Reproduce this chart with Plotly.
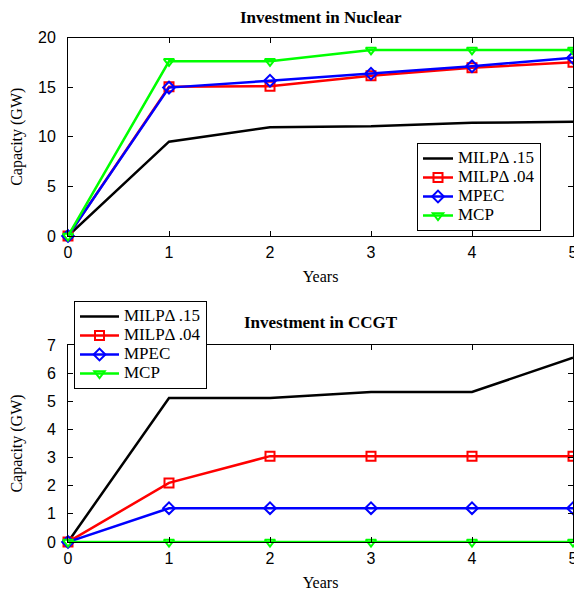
import plotly.graph_objects as go

years = [0, 1, 2, 3, 4, 5]
series_names = ["MILPΔ .15", "MILPΔ .04", "MPEC", "MCP"]

nuclear_milp15 = [0, 9.5, 10.95, 11.05, 11.4, 11.5]
nuclear_milp04 = [0, 15.05, 15.1, 16.15, 16.95, 17.5]
nuclear_mpec = [0, 14.95, 15.65, 16.35, 17.1, 17.95]
nuclear_mcp = [0, 17.6, 17.6, 18.75, 18.75, 18.75]

ccgt_milp15 = [0, 5.12, 5.12, 5.33, 5.33, 6.55]
ccgt_milp04 = [0, 2.1, 3.05, 3.05, 3.05, 3.05]
ccgt_mpec = [0, 1.2, 1.2, 1.2, 1.2, 1.2]
ccgt_mcp = [0, 0, 0, 0, 0, 0]

nuclear_ticks = [0, 5, 10, 15, 20]
ccgt_ticks = [0, 1, 2, 3, 4, 5, 6, 7]

styles = [
    dict(color="black", symbol=None),
    dict(color="#ff0000", symbol="square-open"),
    dict(color="#0000ff", symbol="diamond-open"),
    dict(color="#00ff00", symbol="triangle-down-open"),
]

SERIF = "Liberation Serif, Times New Roman, serif"
SANS = "Liberation Sans, Arial, sans-serif"

fig = go.Figure()

def add_group(data, xa, ya, legend):
    for name, vals, st in zip(series_names, data, styles):
        mode = "lines" if st["symbol"] is None else "lines+markers"
        marker = dict(color=st["color"], size=9, line=dict(color=st["color"], width=2))
        if st["symbol"]:
            marker["symbol"] = st["symbol"]
        fig.add_trace(go.Scatter(
            x=years, y=vals,
            name='<span style="font-size:17px">' + name + '</span>',
            mode=mode,
            line=dict(color=st["color"], width=2.5),
            marker=marker, xaxis=xa, yaxis=ya, legend=legend, cliponaxis=False,
        ))

add_group([nuclear_milp15, nuclear_milp04, nuclear_mpec, nuclear_mcp], "x", "y", "legend")
add_group([ccgt_milp15, ccgt_milp04, ccgt_mpec, ccgt_mcp], "x2", "y2", "legend2")

# page body has an 8px default margin; figure is sized to fill the rest of the window
OFF = 8
W, H = 582 - OFF, 592 - OFF

def px(x):
    return (x - OFF) / W

def py(y):
    return 1 - (y - OFF) / H

xl, xr = px(68), px(573)
top_y0, top_y1 = py(236), py(37.5)
bot_y0, bot_y1 = py(542), py(345)

tickfont = dict(family=SANS, size=16, color="black")
titlefont = dict(family=SERIF, size=16, color="black")

axis_common = dict(showline=True, linecolor="black", linewidth=1, mirror="ticks",
                   ticks="inside", ticklen=5, tickcolor="black", showgrid=False,
                   zeroline=False, tickfont=tickfont, automargin=False,
                   ticklabeloverflow="allow")

legend_common = dict(xanchor="left", yanchor="top",
                     bgcolor="white", bordercolor="black", borderwidth=1,
                     font=dict(family=SERIF, size=11, color="black"),
                     tracegroupgap=0)

fig.update_layout(
    width=W, height=H, margin=dict(l=0, r=0, t=0, b=0),
    paper_bgcolor="white", plot_bgcolor="white",
    xaxis=dict(domain=[xl, xr], anchor="y", range=[0, 5], tickvals=years,
               ticklabelstandoff=2,
               title=dict(text="Years", font=titlefont, standoff=10), **axis_common),
    yaxis=dict(domain=[top_y0, top_y1], anchor="x", range=[0, 20], tickvals=nuclear_ticks,
               ticklabelstandoff=8,
               title=dict(text="Capacity (GW)", font=titlefont, standoff=14), **axis_common),
    xaxis2=dict(domain=[xl, xr], anchor="y2", range=[0, 5], tickvals=years,
                ticklabelstandoff=2,
                title=dict(text="Years", font=titlefont, standoff=10), **axis_common),
    yaxis2=dict(domain=[bot_y0, bot_y1], anchor="x2", range=[0, 7], tickvals=ccgt_ticks,
                ticklabelstandoff=8,
                title=dict(text="Capacity (GW)", font=titlefont, standoff=24), **axis_common),
    legend=dict(x=px(417), y=py(143), itemwidth=30, **legend_common),
    legend2=dict(x=px(74), y=py(301), itemwidth=39, **legend_common),
    annotations=[
        dict(text="<b>Investment in Nuclear</b>", x=(xl + xr) / 2, y=py(18),
             xref="paper", yref="paper", showarrow=False, yanchor="middle",
             font=dict(family=SERIF, size=17, color="black")),
        dict(text="<b>Investment in CCGT</b>", x=(xl + xr) / 2, y=py(322),
             xref="paper", yref="paper", showarrow=False, yanchor="middle",
             font=dict(family=SERIF, size=17, color="black")),
    ],
    showlegend=True,
)

fig.write_html("out.html")
